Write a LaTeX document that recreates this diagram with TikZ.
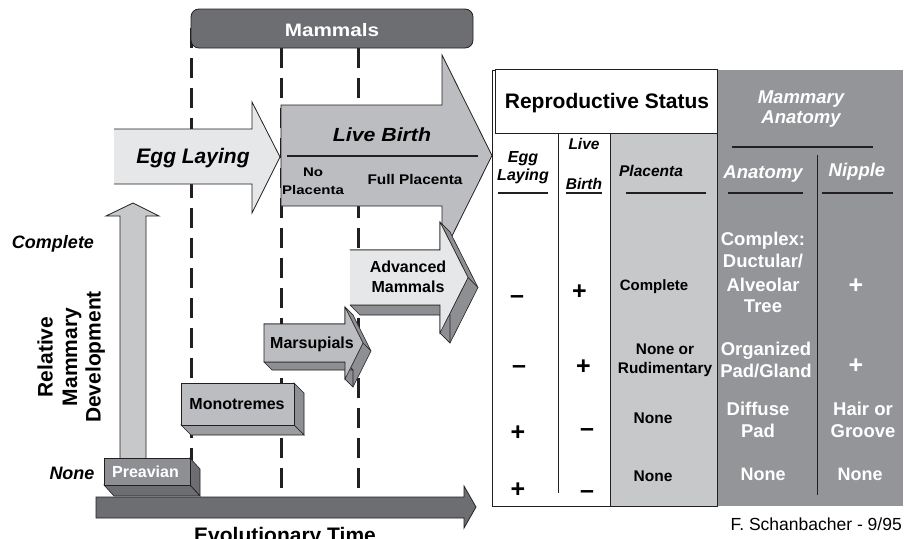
\documentclass[tikz,border=0pt]{standalone}
\usepackage{fontspec}
\setmainfont{Liberation Sans}
\usepackage{graphicx}
\definecolor{ink}{HTML}{231F20}
\definecolor{gA}{HTML}{6D6E71}
\definecolor{gB}{HTML}{8E8F92}
\definecolor{gC}{HTML}{BCBDC0}
\definecolor{gD}{HTML}{C7C8CA}
\definecolor{gE}{HTML}{E6E7E8}
\definecolor{gT}{HTML}{939598}
\newcommand\fsz[1]{\fontsize{#1}{#1}\selectfont}
\tikzset{
  lbl/.style={inner sep=0pt, anchor=base},
  fb/.style={font=\bfseries\fsz{#1}},
  fbi/.style={font=\bfseries\itshape\fsz{#1}},
  wt/.style={text=white},
  dline/.style={draw=ink, line width=3pt, dash pattern=on 20pt off 10pt},
  edge/.style={draw=ink, line width=0.8pt, line join=miter},
  rule/.style={draw=ink, line width=1.3pt},
  ext/.style={fill=gB, draw=ink, line width=0.6pt, line join=round},
  sign/.style={lbl, fb=25},
}
\begin{document}
\begin{tikzpicture}[x=1pt,y=-1pt]
\useasboundingbox (0,0) rectangle (904,538);
\fill[white] (0,0) rectangle (904,538);

% dashed guide lines
\coordinate (d1t) at (191,28);  \coordinate (d1b) at (191,490);
\coordinate (d2t) at (281,48);  \coordinate (d2b) at (281,490);
\coordinate (d3t) at (358,48);  \coordinate (d3b) at (358,490);
\draw[dline] (d1t) -- (d1b);
\draw[dline] (d2t) -- (d2b);
\draw[dline] (d3t) -- (d3b);

% Mammals bar
\filldraw[fill=gA, edge, rounded corners=8pt] (191,9) rectangle (473,48);
\node[lbl, fb=18, wt] (mammals) at (332,36.5) {\scalebox{1.15}[1]{Mammals}};

% vertical development arrow
\fill[gD] (120,460) -- (120,216) -- (106,216) -- (133,203) -- (159,216) -- (146,216) -- (146,460) -- cycle;
\draw[edge] (120,460) -- (120,216) -- (106,216) -- (133,203) -- (159,216) -- (146,216) -- (146,460);

% Egg laying arrow
\fill[gE] (114,129) -- (252,129) -- (252,102) -- (280,157) -- (252,213) -- (252,184) -- (114,184) -- cycle;
\draw[edge] (114,129) -- (252,129) -- (252,102) -- (280,157) -- (252,213) -- (252,184) -- (114,184);
\node[lbl, fbi=21] (egg) at (193,163) {Egg Laying};

% Live birth arrow
\filldraw[fill=gC, edge] (281,105) -- (442,105) -- (442,55) -- (492,155.5) -- (442,256) -- (442,206) -- (281,206) -- cycle;
\draw[draw=ink, line width=1.3pt] (287,156) -- (478,156);
\node[lbl, fbi=19] (live) at (382,141) {\scalebox{1.12}[1]{Live Birth}};
\node[lbl, fb=12.5] (nop1) at (313,176) {\scalebox{1.2}[1]{No}};
\node[lbl, fb=12.5] (nop2) at (313,194) {\scalebox{1.2}[1]{Placenta}};
\node[lbl, fb=14] (fullp) at (415,184) {\scalebox{1.1}[1]{Full Placenta}};

% Advanced mammals 3D arrow
\coordinate (a1) at (350,250); \coordinate (a2) at (440,250); \coordinate (a3) at (440,222);
\coordinate (a4) at (468,277.5); \coordinate (a5) at (440,333); \coordinate (a6) at (440,305);
\coordinate (a7) at (350,305);
\coordinate (b1) at (360,260); \coordinate (b2) at (450,260); \coordinate (b3) at (450,232);
\coordinate (b4) at (478,287.5); \coordinate (b5) at (450,343); \coordinate (b6) at (450,315);
\coordinate (b7) at (360,315);
\foreach \i/\j in {1/2,2/3,3/4,4/5,5/6,6/7}
  \filldraw[ext] (a\i) -- (a\j) -- (b\j) -- (b\i) -- cycle;
\fill[gE] (a1) -- (a2) -- (a3) -- (a4) -- (a5) -- (a6) -- (a7) -- cycle;
\draw[edge, line width=0.6pt] (a7) -- (a6) -- (a5) -- (a4) -- (a3) -- (a2) -- (a1);
\node[lbl, fb=16] (adv1) at (408,272) {Advanced};
\node[lbl, fb=16] (adv2) at (408,292) {Mammals};

% Marsupials 3D arrow
\coordinate (m1) at (264,324); \coordinate (m2) at (345,324); \coordinate (m3) at (345,307);
\coordinate (m4) at (363,343); \coordinate (m5) at (345,379); \coordinate (m6) at (345,362);
\coordinate (m7) at (264,362);
\coordinate (n1) at (272,332); \coordinate (n2) at (353,332); \coordinate (n3) at (353,315);
\coordinate (n4) at (371,351); \coordinate (n5) at (353,387); \coordinate (n6) at (353,370);
\coordinate (n7) at (272,370);
\foreach \i/\j in {1/2,2/3,3/4,4/5,5/6,6/7}
  \filldraw[ext] (m\i) -- (m\j) -- (n\j) -- (n\i) -- cycle;
\filldraw[fill=gC, edge, line width=0.6pt] (m1) -- (m2) -- (m3) -- (m4) -- (m5) -- (m6) -- (m7) -- cycle;
\node[lbl, fb=16] (mars) at (312,348) {Marsupials};

% Monotremes box
\filldraw[fill=gB, edge, line width=0.6pt] (294,383) -- (304,393) -- (304,435) -- (294,425) -- cycle;
\filldraw[fill=gT!80!gC, edge, line width=0.6pt] (181,425) -- (294,425) -- (304,435) -- (191,435) -- cycle;
\filldraw[fill=gC, edge, line width=0.6pt] (181,383) rectangle (294,425);
\node[lbl, fb=16] (mono) at (237,409) {Monotremes};

% Evolutionary time arrow
\filldraw[fill=gA, edge] (96,497) -- (464,497) -- (464,486) -- (476,507) -- (464,528) -- (464,518) -- (96,518) -- cycle;
\node[lbl, fb=21] (evo) at (285,542) {Evolutionary Time};

% Preavian box
\filldraw[fill=gA, edge, line width=0.6pt] (190,458) -- (200,469) -- (200,496) -- (190,485) -- cycle;
\filldraw[fill=gA, edge, line width=0.6pt] (104,485) -- (190,485) -- (200,496) -- (114,496) -- cycle;
\filldraw[fill=gB, edge, line width=0.6pt] (104,458) rectangle (190,485);
\node[lbl, fb=16, wt] (prea) at (145.5,477) {Preavian};

% axis labels
\node[lbl, fbi=18] (lcomp) at (53,248) {Complete};
\node[lbl, fbi=18] (lnone) at (72,479) {None};
\node[lbl, fb=21, rotate=90] (rel1) at (52.5,357) {Relative};
\node[lbl, fb=21, rotate=90] (rel2) at (77,357) {Mammary};
\node[lbl, fb=21, rotate=90] (rel3) at (100.5,357) {Development};

% ---------- table ----------
\fill[gT] (717,70) rectangle (903,506);
\filldraw[fill=gD, draw=ink, line width=0.8pt] (610,133) rectangle (717,506);
\draw[draw=ink, line width=0.9pt] (492,70) -- (492,506) -- (717,506);
\draw[draw=ink, line width=0.9pt] (492,70) -- (495,70);
\filldraw[fill=white, draw=ink, line width=0.9pt] (495,69) rectangle (717,133);
\draw[draw=ink, line width=0.8pt] (558,133) -- (558,493);
\draw[draw=ink, line width=0.9pt] (817,155) -- (817,495);
\draw[rule] (732,147) -- (873,147);
\draw[rule] (498,193) -- (548,193);
\draw[rule] (566,193) -- (602,193);
\draw[rule] (626,193) -- (706,193);
\draw[rule] (728,193) -- (803,193);
\draw[rule] (822,193) -- (893,193);

\node[lbl, fb=21] (rs) at (607,108) {Reproductive Status};
\node[lbl, fbi=18.5, wt] (ma1) at (801,103) {Mammary};
\node[lbl, fbi=18.5, wt] (ma2) at (801,123) {Anatomy};
\node[lbl, fbi=16] (h1a) at (523,162) {Egg};
\node[lbl, fbi=16] (h1b) at (523,180) {Laying};
\node[lbl, fbi=15.5] (h2a) at (584,149) {Live};
\node[lbl, fbi=15.5] (h2b) at (584,189) {Birth};
\node[lbl, fbi=15.5] (h3) at (651,176) {Placenta};
\node[lbl, fbi=18.5, wt] (h4) at (763,178) {Anatomy};
\node[lbl, fbi=18.5, wt] (h5) at (857,176) {Nipple};

% row 1
\node[sign] (r1a) at (517,303.5) {–};
\node[sign] (r1b) at (579.5,299.5) {+};
\node[lbl, fb=15] (r1c) at (654,290) {Complete};
\node[lbl, fb=18.5, wt] (r1d1) at (763,245) {Complex:};
\node[lbl, fb=18.5, wt] (r1d2) at (763,267) {Ductular/};
\node[lbl, fb=18.5, wt] (r1d3) at (763,291) {Alveolar};
\node[lbl, fb=18.5, wt] (r1d4) at (763,312) {Tree};
\node[sign, wt] (r1e) at (856,293.5) {+};
% row 2
\node[sign] (r2a) at (519,373) {–};
\node[sign] (r2b) at (583.5,374.5) {+};
\node[lbl, fb=15.4] (r2c1) at (665,354) {None or};
\node[lbl, fb=15.4] (r2c2) at (665,373) {Rudimentary};
\node[lbl, fb=18.5, wt] (r2d1) at (766,355) {Organized};
\node[lbl, fb=18.5, wt] (r2d2) at (766,377) {Pad/Gland};
\node[sign, wt] (r2e) at (856,373.5) {+};
% row 3
\node[sign] (r3a) at (518,440.5) {+};
\node[sign] (r3b) at (587,436) {–};
\node[lbl, fb=15.5] (r3c) at (653,423) {None};
\node[lbl, fb=18.5, wt] (r3d1) at (758,415) {Diffuse};
\node[lbl, fb=18.5, wt] (r3d2) at (758,437) {Pad};
\node[lbl, fb=18.5, wt] (r3e1) at (863,415) {Hair or};
\node[lbl, fb=18.5, wt] (r3e2) at (863,437) {Groove};
% row 4
\node[sign] (r4a) at (518,497.5) {+};
\node[sign] (r4b) at (587,498) {–};
\node[lbl, fb=15.5] (r4c) at (653,481) {None};
\node[lbl, fb=18, wt] (r4d) at (763,480) {None};
\node[lbl, fb=18, wt] (r4e) at (860,480) {None};

\node[lbl, font=\fsz{17.5}, anchor=base east] (credit) at (902,530) {F. Schanbacher - 9/95};
\end{tikzpicture}
\end{document}
